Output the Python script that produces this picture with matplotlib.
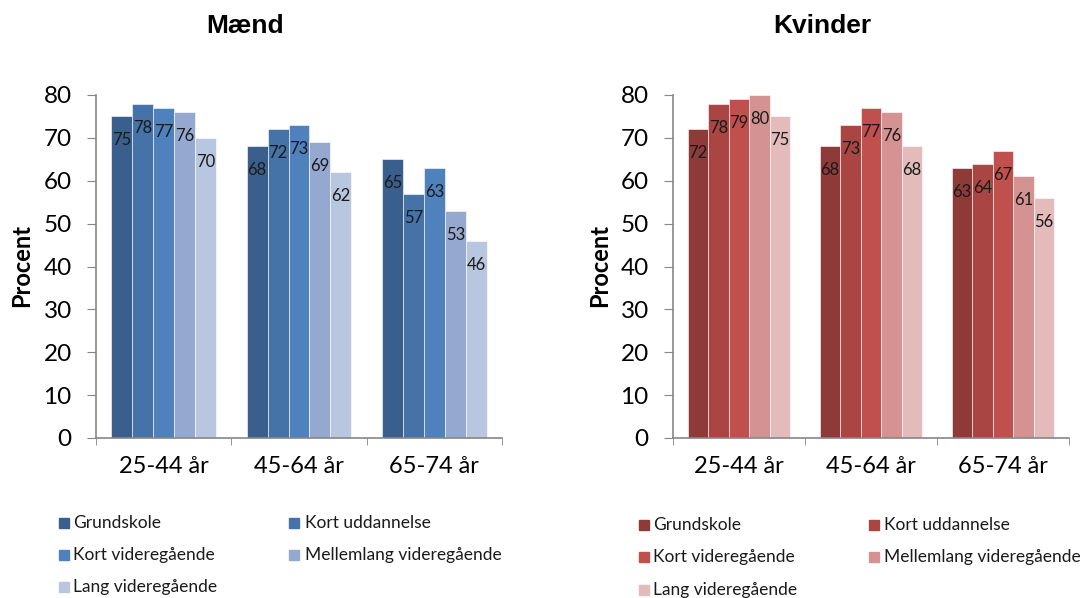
import numpy as np
import matplotlib.pyplot as plt
from matplotlib.patches import Rectangle

plt.rcParams['font.family'] = ['Lato', 'DejaVu Sans']

age_groups = ['25-44 år', '45-64 år', '65-74 år']
levels = ['Grundskole', 'Kort uddannelse', 'Kort videregående',
          'Mellemlang videregående', 'Lang videregående']

# andel i procent, en liste pr. uddannelsesniveau (over aldersgrupper)
maend = [
    [75, 68, 65],
    [78, 72, 57],
    [77, 73, 63],
    [76, 69, 53],
    [70, 62, 46],
]
kvinder = [
    [72, 68, 63],
    [78, 73, 64],
    [79, 77, 67],
    [80, 76, 61],
    [75, 68, 56],
]

blues = ['#3a5f8d', '#4572a7', '#4f81bd', '#95a9d0', '#b9c6e0']
reds = ['#8e3a38', '#a94643', '#c0504d', '#d49392', '#e2bbba']

fig = plt.figure(figsize=(10.83, 5.98), dpi=100)


def draw_panel(rect, values, colors, title, title_x, ylabel_x):
    ax = fig.add_axes(rect)
    x = np.arange(len(age_groups))
    w = 0.155
    for i, vals in enumerate(values):
        pos = x + (i - 2) * w
        ax.bar(pos, vals, width=w, color=colors[i], edgecolor='#ffffff',
               linewidth=0.4)
        for px, v in zip(pos, vals):
            ax.annotate(str(v), (px, v), xytext=(0, -24),
                        textcoords='offset pixels', ha='center', va='center',
                        fontsize=12, color='#1a1a1a')
    ax.set_xlim(-0.5, 2.5)
    ax.set_ylim(0, 80)
    ax.set_yticks(range(0, 81, 10))
    ax.set_xticks(x)
    ax.set_xticklabels(age_groups)
    ax.set_xticks([-0.5, 0.5, 1.5, 2.5], minor=True)
    ax.tick_params(axis='x', which='major', length=0, pad=13, labelsize=17)
    ax.tick_params(axis='x', which='minor', length=5, color='#868686',
                   direction='out')
    ax.tick_params(axis='y', length=6.5, color='#868686', labelsize=17.5,
                   pad=11)
    for s in ['top', 'right']:
        ax.spines[s].set_visible(False)
    for s in ['left', 'bottom']:
        ax.spines[s].set_color('#868686')
        ax.spines[s].set_linewidth(1.2)
    fig.text(title_x, 1 - 26 / 598, title, ha='center', va='center',
             fontsize=19, fontweight='bold', family='Liberation Sans')
    fig.text(ylabel_x, 1 - 266 / 598, 'Procent', ha='center', va='center',
             rotation=90, fontsize=17, fontweight='bold')
    return ax


draw_panel([96 / 1083, 1 - 438 / 598, 406 / 1083, 343 / 598],
           maend, blues, 'Mænd', 245 / 1083, 22 / 1083)
draw_panel([673 / 1083, 1 - 438 / 598, 396 / 1083, 343 / 598],
           kvinder, reds, 'Kvinder', 822 / 1083, 600 / 1083)


def draw_legend(colors, sq_x, txt_x, rows_y):
    # to kolonner, fyldt række for række
    for i, name in enumerate(levels):
        r, c = divmod(i, 2)
        y = rows_y[r]
        fig.add_artist(Rectangle((sq_x[c] / 1083, 1 - (y + 5) / 598),
                                 10 / 1083, 10 / 598, color=colors[i],
                                 transform=fig.transFigure))
        fig.text(txt_x[c] / 1083, 1 - y / 598, name, ha='left', va='center',
                 fontsize=12.5, color='#1a1a1a')


draw_legend(blues, [59, 289], [73, 305], [523, 555, 587])
draw_legend(reds, [639, 869], [653, 884], [525, 557, 590])

fig.savefig('out.png', dpi=100)
